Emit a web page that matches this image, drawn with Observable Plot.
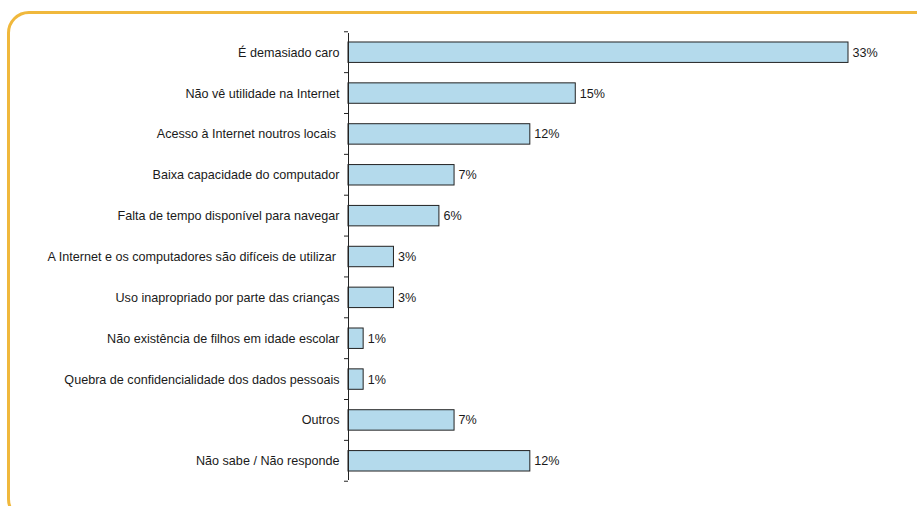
<!DOCTYPE html>
<html>
<head>
<meta charset="utf-8">
<script src="https://cdn.jsdelivr.net/npm/d3@7"></script>
<script src="https://cdn.jsdelivr.net/npm/@observablehq/plot@0.6"></script>
<style>
  html, body { margin: 0; padding: 0; background: #fff; overflow: hidden; }
  #wrap { position: relative; width: 917px; height: 506px; }
  #frame { position: absolute; left: 7px; top: 11px; width: 940px; height: 510px;
           border: 3px solid #f0b83c; border-radius: 22px; box-sizing: border-box; }
  #chart { position: absolute; left: 0; top: 0; }
  #chart svg { background: transparent; }
</style>
</head>
<body>
<div id="wrap"><div id="frame"></div><div id="chart"></div></div>
<script>
const categories = [
  "É demasiado caro",
  "Não vê utilidade na Internet",
  "Acesso à Internet noutros locais\u00a0",
  "Baixa capacidade do computador",
  "Falta de tempo disponível para navegar",
  "A Internet e os computadores são difíceis de utilizar\u00a0",
  "Uso inapropriado por parte das crianças",
  "Não existência de filhos em idade escolar",
  "Quebra de confidencialidade dos dados pessoais",
  "Outros",
  "Não sabe / Não responde"
];
const values = [33, 15, 12, 7, 6, 3, 3, 1, 1, 7, 12];

const data = categories.map((c, i) => ({cat: c, value: values[i]}));

const boundaryTicks = (index, scales, vals, dims) => {
  const y = scales.y, x = scales.x;
  const bw = typeof y.bandwidth === "function" ? y.bandwidth() : 20;
  const step = y(categories[1]) - y(categories[0]);
  const off = (step - bw) / 2;
  const x0 = x(0);
  const g = d3.create("svg:g").attr("stroke", "#222").attr("stroke-width", 1);
  const ys = categories.map(c => y(c) - off);
  ys.push(y(categories[categories.length - 1]) + bw + off);
  for (const yy of ys) {
    g.append("line").attr("x1", x0 - 4).attr("x2", x0).attr("y1", yy).attr("y2", yy);
  }
  return g.node();
};

const plot = Plot.plot({
  width: 917,
  height: 506,
  marginLeft: 348,
  marginRight: 69,
  marginTop: 33,
  marginBottom: 26,
  style: {fontFamily: "'Liberation Sans', Arial, sans-serif", fontSize: "12.6px", color: "#1a1a1a", background: "transparent"},
  x: {domain: [0, 33], axis: null},
  y: {domain: categories, paddingInner: 0.5, paddingOuter: 0.22, round: false, label: null},
  marks: [
    Plot.barX(data, {x: "value", y: "cat", fill: "#b4daec", stroke: "#222", strokeWidth: 1}),
    Plot.ruleX([0], {stroke: "#222", strokeWidth: 1}),
    boundaryTicks,
    Plot.axisY({tickSize: 0, tickPadding: 9, fontSize: 12.6, fill: "#1a1a1a", label: null}),
    Plot.text(data, {x: "value", y: "cat", text: d => d.value + "%", textAnchor: "start", dx: 4, fontSize: 12.6, fill: "#1a1a1a"})
  ]
});
document.getElementById("chart").appendChild(plot);
</script>
</body>
</html>
